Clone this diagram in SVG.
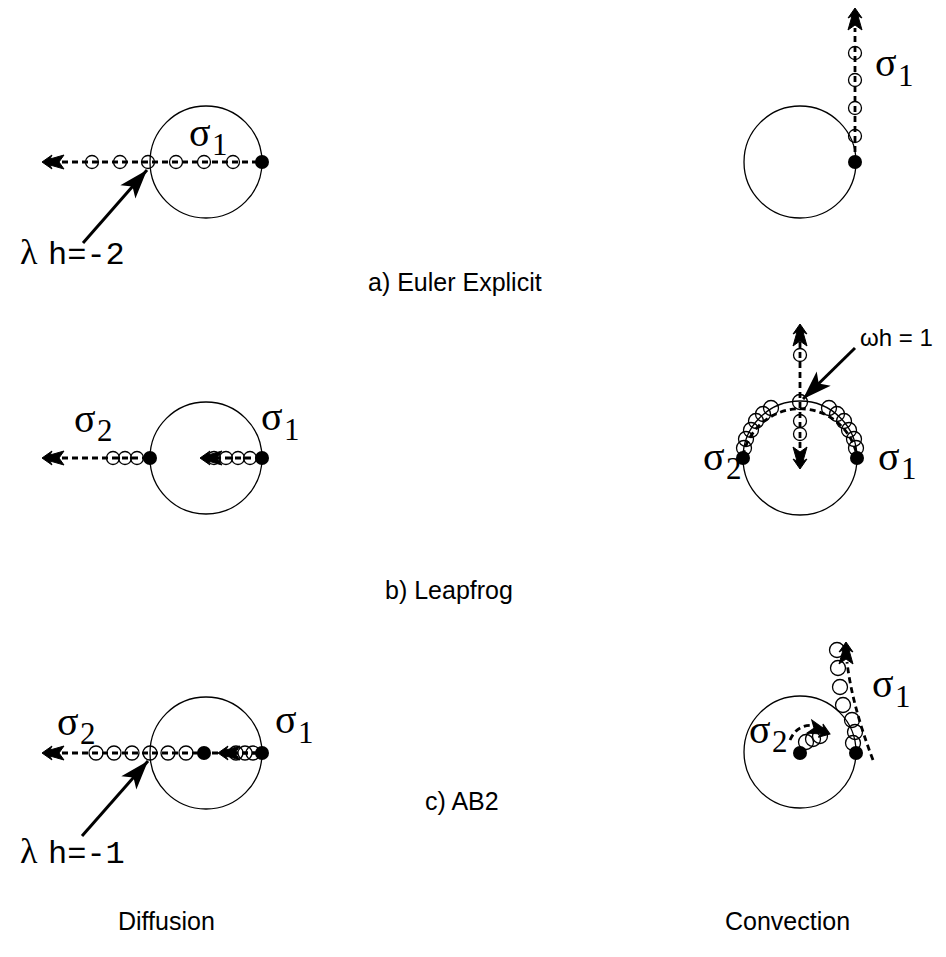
<svg xmlns="http://www.w3.org/2000/svg" xmlns:xlink="http://www.w3.org/1999/xlink" width="946" height="957" viewBox="0 0 946 957">
<style>
.ring{fill:none;stroke:#000;stroke-width:1.3}
.pt{fill:none;stroke:#000;stroke-width:1.3}
.dot{fill:#000}
.dash{fill:none;stroke:#000;stroke-width:2.8;stroke-dasharray:6 4}
.sol{fill:none;stroke:#000;stroke-width:3}
.sig{font-family:"Liberation Serif","DejaVu Serif",serif;font-size:40px}
.sub{font-family:"Liberation Serif","DejaVu Serif",serif;font-size:31px}
.cap{font-family:"Liberation Sans",Arial,sans-serif;font-size:25px}
.mono{font-family:"Liberation Mono","DejaVu Sans Mono",monospace;font-size:32px}
</style>
<defs>
<path id="ah" d="M0,0 L10,-7 L8,-3 L22,-7 L17,0 L22,7 L8,3 L10,7 Z" fill="#000" stroke="#000" stroke-width="1"/>
<marker id="sa" markerUnits="userSpaceOnUse" markerWidth="32" markerHeight="22" viewBox="-30 -11 32 22" refX="0" refY="0" orient="auto">
<path d="M0,0 L-29,-10 L-22,0 L-29,10 Z" fill="#000"/>
</marker>
</defs>

<g id="connectors">
<line class="dash" x1="62" y1="162" x2="262" y2="162"/>
<use xlink:href="#ah" transform="translate(42,162)"/>
<line class="sol" x1="83" y1="243" x2="147" y2="170" marker-end="url(#sa)"/>
<line class="dash" x1="855" y1="162" x2="855" y2="28"/>
<use xlink:href="#ah" transform="translate(855,8) rotate(90)"/>
<line class="dash" x1="62" y1="458" x2="150" y2="458"/>
<use xlink:href="#ah" transform="translate(42,458)"/>
<line class="dash" x1="215" y1="458" x2="262" y2="458"/>
<use xlink:href="#ah" transform="translate(200,458)"/>
<path class="dash" d="M743,456 A58,58 0 0 1 857,456"/>
<line class="dash" x1="800" y1="342" x2="800" y2="450"/>
<use xlink:href="#ah" transform="translate(800,324) rotate(90)"/>
<use xlink:href="#ah" transform="translate(800,469) rotate(-90)"/>
<line class="sol" x1="855" y1="348" x2="803" y2="399" marker-end="url(#sa)"/>
<line class="dash" x1="62" y1="753" x2="262" y2="753"/>
<use xlink:href="#ah" transform="translate(42,753)"/>
<line class="dash" x1="232" y1="753" x2="262" y2="753"/>
<use xlink:href="#ah" transform="translate(218,753)"/>
<line class="sol" x1="82" y1="836" x2="148" y2="761" marker-end="url(#sa)"/>
<path class="dash" d="M873,760 Q852,705 847,662"/>
<use xlink:href="#ah" transform="translate(846,642) rotate(90)"/>
<path class="dash" d="M790,740 Q798,722 818,726"/>
<use xlink:href="#ah" transform="translate(830,734) rotate(200)"/>
</g>

<g id="euler-diffusion">
<circle class="ring" cx="206" cy="162" r="56"/>
<circle class="pt" cx="92" cy="162" r="6.5"/>
<circle class="pt" cx="120" cy="162" r="6.5"/>
<circle class="pt" cx="148" cy="162" r="6.5"/>
<circle class="pt" cx="176" cy="162" r="6.5"/>
<circle class="pt" cx="204" cy="162" r="6.5"/>
<circle class="pt" cx="233" cy="162" r="6.5"/>
<circle class="dot" cx="262" cy="162" r="7"/>
<text class="sig" x="189" y="146">σ</text><text class="sub" x="212" y="155">1</text>
<text class="sig" x="20" y="264" style="font-size:36px">λ</text>
<text class="mono" x="48" y="264">h=-2</text>
</g>

<g id="euler-convection">
<circle class="ring" cx="800" cy="162" r="56"/>
<circle class="pt" cx="855" cy="53" r="6.5"/>
<circle class="pt" cx="855" cy="80" r="6.5"/>
<circle class="pt" cx="855" cy="108" r="6.5"/>
<circle class="pt" cx="855" cy="136" r="6.5"/>
<circle class="dot" cx="855" cy="162" r="7"/>
<text class="sig" x="875" y="76">σ</text><text class="sub" x="898" y="86">1</text>
</g>

<g id="leapfrog-diffusion">
<circle class="ring" cx="206" cy="458" r="56"/>
<circle class="pt" cx="113" cy="458" r="6.5"/>
<circle class="pt" cx="125" cy="458" r="6.5"/>
<circle class="pt" cx="137" cy="458" r="6.5"/>
<circle class="dot" cx="150" cy="458" r="7"/>
<circle class="pt" cx="214" cy="458" r="6.5"/>
<circle class="pt" cx="226" cy="458" r="6.5"/>
<circle class="pt" cx="238" cy="458" r="6.5"/>
<circle class="pt" cx="250" cy="458" r="6.5"/>
<circle class="dot" cx="262" cy="458" r="7"/>
<text class="sig" x="74" y="432">σ</text><text class="sub" x="97" y="441">2</text>
<text class="sig" x="261" y="430">σ</text><text class="sub" x="284" y="440">1</text>
</g>

<g id="leapfrog-convection">
<circle class="ring" cx="800" cy="458" r="57"/>
<circle class="pt" cx="800" cy="402" r="7.5"/>
<circle class="pt" cx="771" cy="408" r="7.5"/>
<circle class="pt" cx="763" cy="414" r="7.5"/>
<circle class="pt" cx="756" cy="421" r="7.5"/>
<circle class="pt" cx="751" cy="430" r="7.5"/>
<circle class="pt" cx="746" cy="439" r="7.5"/>
<circle class="pt" cx="744" cy="448" r="7.5"/>
<circle class="pt" cx="829" cy="408" r="7.5"/>
<circle class="pt" cx="837" cy="414" r="7.5"/>
<circle class="pt" cx="844" cy="421" r="7.5"/>
<circle class="pt" cx="849" cy="430" r="7.5"/>
<circle class="pt" cx="854" cy="439" r="7.5"/>
<circle class="pt" cx="856" cy="448" r="7.5"/>
<circle class="pt" cx="800" cy="355" r="6.5"/>
<circle class="pt" cx="800" cy="421" r="6.5"/>
<circle class="pt" cx="800" cy="434" r="6.5"/>
<circle class="dot" cx="743" cy="458" r="7"/>
<circle class="dot" cx="857" cy="458" r="7"/>
<text class="sig" x="703" y="470">σ</text><text class="sub" x="726" y="479">2</text>
<text class="sig" x="878" y="470">σ</text><text class="sub" x="901" y="479">1</text>
<text class="cap" x="860" y="346" style="font-size:24px">ωh = 1</text>
</g>

<g id="ab2-diffusion">
<circle class="ring" cx="206" cy="753" r="56"/>
<circle class="pt" cx="96" cy="753" r="7"/>
<circle class="pt" cx="114" cy="753" r="7"/>
<circle class="pt" cx="132" cy="753" r="7"/>
<circle class="pt" cx="150" cy="753" r="7"/>
<circle class="pt" cx="168" cy="753" r="7"/>
<circle class="pt" cx="186" cy="753" r="7"/>
<circle class="dot" cx="204" cy="753" r="7"/>
<circle class="pt" cx="236" cy="753" r="7"/>
<circle class="pt" cx="245" cy="753" r="7"/>
<circle class="pt" cx="253" cy="753" r="7"/>
<circle class="dot" cx="262" cy="753" r="7"/>
<text class="sig" x="57" y="735">σ</text><text class="sub" x="80" y="744">2</text>
<text class="sig" x="275" y="733">σ</text><text class="sub" x="298" y="743">1</text>
<text class="sig" x="20" y="863" style="font-size:36px">λ</text>
<text class="mono" x="48" y="863">h=-1</text>
</g>

<g id="ab2-convection">
<circle class="ring" cx="800" cy="752" r="56"/>
<circle class="pt" cx="853" cy="743" r="7.5"/>
<circle class="pt" cx="855" cy="732" r="7.5"/>
<circle class="pt" cx="852" cy="720" r="7.5"/>
<circle class="pt" cx="843" cy="705" r="7.5"/>
<circle class="pt" cx="840" cy="687" r="7.5"/>
<circle class="pt" cx="838" cy="668" r="7.5"/>
<circle class="pt" cx="837" cy="650" r="7.5"/>
<circle class="pt" cx="806" cy="742" r="7.5"/>
<circle class="pt" cx="813" cy="739" r="7.5"/>
<circle class="pt" cx="820" cy="736" r="7.5"/>
<circle class="dot" cx="800" cy="753" r="7"/>
<circle class="dot" cx="856" cy="753" r="7"/>
<text class="sig" x="749" y="743">σ</text><text class="sub" x="772" y="752">2</text>
<text class="sig" x="872" y="697">σ</text><text class="sub" x="895" y="707">1</text>
</g>

<g id="labels">
<text class="cap" x="368" y="291">a) Euler Explicit</text>
<text class="cap" x="385" y="599">b) Leapfrog</text>
<text class="cap" x="425" y="810">c) AB2</text>
<text class="cap" x="118" y="930">Diffusion</text>
<text class="cap" x="725" y="930">Convection</text>
</g>
</svg>
